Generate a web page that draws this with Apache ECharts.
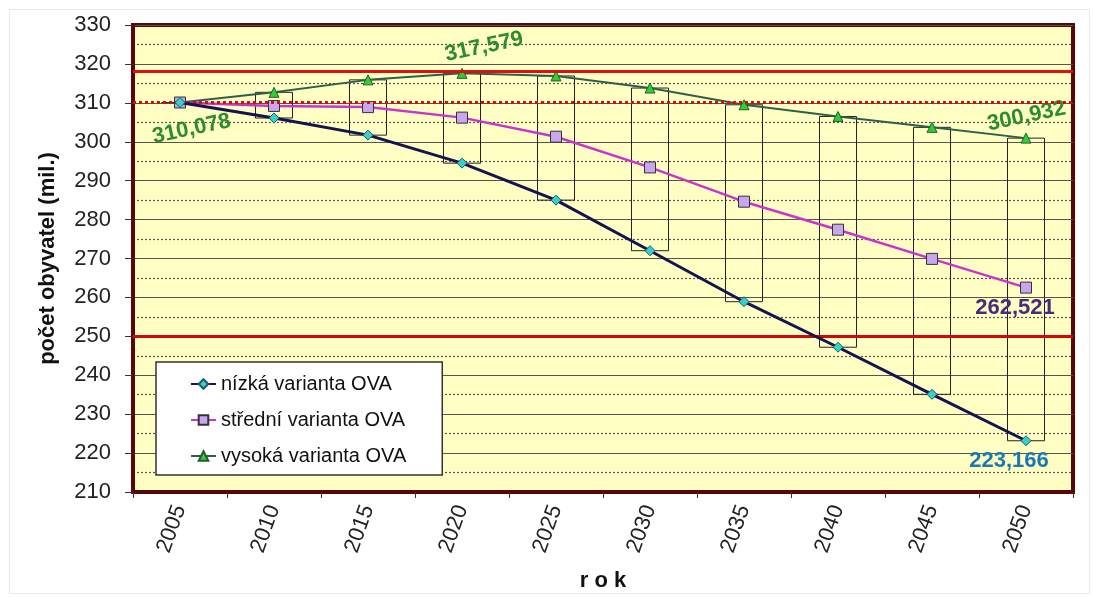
<!DOCTYPE html>
<html>
<head>
<meta charset="utf-8">
<script src="https://cdn.jsdelivr.net/npm/echarts@6/dist/echarts.min.js"></script>
<style>
html,body{margin:0;padding:0;background:#fff;}
#c{width:1094px;height:598px;}
</style>
</head>
<body>
<div id="c"></div>
<script>
var years = ['2005','2010','2015','2020','2025','2030','2035','2040','2045','2050'];
var lowSeries  = [310.078, 306.1, 301.7, 294.5, 285.0, 272.0, 258.9, 247.2, 235.1, 223.166];
var midSeries  = [310.078, 309.2, 308.9, 306.2, 301.3, 293.4, 284.6, 277.4, 269.9, 262.521];
var highSeries = [310.078, 312.7, 315.9, 317.579, 316.9, 313.8, 309.5, 306.5, 303.7, 300.932];
var yTicks = [210, 220, 230, 240, 250, 260, 270, 280, 290, 300, 310, 320, 330];
var refLines = [318, 250];
var refDotted = 310.078;
var seriesNames = ['nízká varianta OVA', 'střední varianta OVA', 'vysoká varianta OVA'];

var FONT = 'Liberation Sans, Arial, sans-serif';
function fmt(v){ return v.toFixed(3).replace('.', ','); }

var chart = echarts.init(document.getElementById('c'), null, {renderer:'canvas'});

var boxData = years.map(function(y, i){
  return [lowSeries[i], highSeries[i], lowSeries[i], highSeries[i]];
});

function labeled(arr, idx, lab){
  return arr.map(function(v, i){
    if (idx.indexOf(i) < 0) return v;
    return {value: v, label: Object.assign({show:true, formatter: function(p){ return fmt(p.value); }}, lab[idx.indexOf(i)])};
  });
}

var labelBase = {fontFamily: FONT, fontWeight: 'bold', fontSize: 22};

var option = {
  animation: false,
  textStyle: {fontFamily: FONT},
  graphic: [{
    type: 'rect', left: 7, top: 7, shape: {width: 1080, height: 584},
    style: {fill: 'none', stroke: '#e8e8e8', lineWidth: 1}, silent: true, z: -10
  }],
  grid: {
    left: 133, right: 21, top: 25, bottom: 106,
    show: true, backgroundColor: '#ffffc4', borderColor: '#5a0606', borderWidth: 4
  },
  legend: {
    data: seriesNames,
    orient: 'vertical',
    left: 156, top: 362,
    backgroundColor: '#ffffff',
    borderColor: '#333', borderWidth: 1.5,
    padding: [12, 36, 9, 34],
    itemWidth: 25, itemHeight: 12, itemGap: 16,
    textStyle: {fontFamily: FONT, fontSize: 20, color: '#111'}
  },
  xAxis: {
    type: 'category', data: years, boundaryGap: true,
    name: 'r o k', nameLocation: 'middle', nameGap: 78,
    nameTextStyle: {fontFamily: FONT, fontWeight: 'bold', fontSize: 22, color: '#111'},
    axisLine: {show: true, lineStyle: {color: '#5a0606', width: 4}},
    axisTick: {show: true, length: 6, lineStyle: {color: '#333'}},
    axisLabel: {rotate: 70, fontSize: 22, color: '#222', margin: 14, fontFamily: FONT},
    splitLine: {show: false}
  },
  yAxis: {
    type: 'value', min: yTicks[0], max: yTicks[yTicks.length-1], interval: 10,
    name: 'počet obyvatel (mil.)', nameLocation: 'middle', nameGap: 74,
    nameTextStyle: {fontFamily: FONT, fontWeight: 'bold', fontSize: 22, color: '#111'},
    axisLine: {show: true, lineStyle: {color: '#5a0606', width: 4}},
    axisTick: {show: true, length: 8, lineStyle: {color: '#333'}},
    axisLabel: {fontSize: 22, color: '#222', margin: 22, fontFamily: FONT},
    splitLine: {show: true, lineStyle: {color: '#555', width: 1}},
    minorTick: {show: false, splitNumber: 2},
    minorSplitLine: {show: true, lineStyle: {color: '#555', width: 1.2, type: [2, 2]}}
  },
  series: [
    {
      name: 'boxes', type: 'candlestick', data: boxData, barWidth: 38,
      itemStyle: {color: 'rgba(0,0,0,0)', color0: 'rgba(0,0,0,0)', borderColor: '#222', borderColor0: '#222', borderWidth: 1},
      z: 2, silent: true,
      markLine: {
        silent: true, symbol: 'none', label: {show: false},
        data: [
          {yAxis: refLines[0], lineStyle: {color: '#e01010', width: 3, type: 'solid'}},
          {yAxis: refLines[1], lineStyle: {color: '#d00808', width: 3, type: 'solid'}},
          {yAxis: refDotted, lineStyle: {color: '#d01010', width: 3, type: [3, 3]}}
        ]
      }
    },
    {
      name: seriesNames[0], type: 'line', z: 5,
      data: labeled(lowSeries, [9], [Object.assign({}, labelBase, {position: 'bottom', offset: [-17, -1], color: '#1c78b0'})]),
      symbol: 'diamond', symbolSize: 10,
      lineStyle: {color: '#141450', width: 3},
      itemStyle: {color: '#38d0c8', borderColor: '#1a5a6a', borderWidth: 1}
    },
    {
      name: seriesNames[1], type: 'line', z: 4,
      data: labeled(midSeries, [9], [Object.assign({}, labelBase, {position: 'bottom', offset: [-11, -2], color: '#4a2a7a'})]),
      symbol: 'rect', symbolSize: 11,
      lineStyle: {color: '#cc33cc', width: 2.5},
      itemStyle: {color: '#caa6ee', borderColor: '#333', borderWidth: 1}
    },
    {
      name: seriesNames[2], type: 'line', z: 3,
      data: labeled(highSeries, [0, 3, 9], [
        Object.assign({}, labelBase, {position: 'bottom', offset: [8, 7], rotate: 12, color: '#2e8b2e'}),
        Object.assign({}, labelBase, {position: 'top', offset: [25, 0], rotate: 12, color: '#2e8b2e'}),
        Object.assign({}, labelBase, {position: 'top', offset: [3, 0], rotate: 12, color: '#2e8b2e'})
      ]),
      symbol: 'triangle', symbolSize: 10,
      lineStyle: {color: '#2f5f4a', width: 2},
      itemStyle: {color: '#33cc33', borderColor: '#1f5f2f', borderWidth: 1}
    }
  ]
};
chart.setOption(option);
</script>
</body>
</html>
